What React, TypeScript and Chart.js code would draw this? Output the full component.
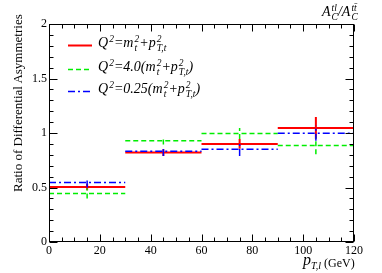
import React, { useEffect, useRef } from "react";
import { Chart, registerables } from "chart.js";
Chart.register(...registerables);

// ---- data ----
const binEdges = [0, 30, 60, 90, 120];
const binCenters = [15, 45, 75, 105];
const xTickLabels = [0, 20, 40, 60, 80, 100, 120];
const yTickLabels = [0, 0.5, 1, 1.5, 2];
const redValues = [0.505, 0.82, 0.9, 1.047];
const redErrors = [0.03, 0.03, 0.045, 0.1];
const greenValues = [0.445, 0.93, 0.995, 0.885];
const greenErrors = [0.045, 0.035, 0.05, 0.08];
const blueValues = [0.545, 0.833, 0.85, 0.998];
const blueErrors = [0.045, 0.045, 0.06, 0.07];

const RED = "#ff0000";
const GREEN = "#00ee00";
const BLUE = "#0000ff";
const SERIF = "Liberation Serif, Times New Roman, Times, serif";

type Pt = { x: number; y: number | null };

function horizontalSegments(values: number[]): Pt[] {
  const pts: Pt[] = [];
  values.forEach((v, i) => {
    pts.push({ x: binEdges[i], y: v });
    pts.push({ x: binEdges[i + 1], y: v });
    pts.push({ x: binEdges[i + 1], y: null });
  });
  return pts;
}
function verticalSegments(values: number[], errors: number[]): Pt[] {
  const pts: Pt[] = [];
  values.forEach((v, i) => {
    pts.push({ x: binCenters[i], y: v - errors[i] });
    pts.push({ x: binCenters[i], y: v + errors[i] });
    pts.push({ x: binCenters[i], y: null });
  });
  return pts;
}

const series = [
  { key: "blue", values: blueValues, errors: blueErrors, color: BLUE, width: 1.5, dash: [7, 3, 2, 3], order: 0, legendY: 91 },
  { key: "green", values: greenValues, errors: greenErrors, color: GREEN, width: 1.5, dash: [5, 3], order: 1, legendY: 69 },
  { key: "red", values: redValues, errors: redErrors, color: RED, width: 2, dash: [] as number[], order: 2, legendY: 45 },
];

const framePlugin = {
  id: "frame",
  afterDatasetsDraw(chart: any) {
    const { ctx, chartArea } = chart;
    const xs = chart.scales.x;
    const ys = chart.scales.y;
    const L = Math.round(chartArea.left) + 0.5;
    const R = Math.round(chartArea.right) - 0.5;
    const T = Math.round(chartArea.top) + 0.5;
    const B = Math.round(chartArea.bottom) - 0.5;
    ctx.save();
    ctx.strokeStyle = "#000";
    ctx.lineWidth = 1;
    ctx.setLineDash([]);
    ctx.strokeRect(L, T, R - L, B - T);
    ctx.beginPath();
    for (let v = 0; v <= 120.001; v += 5) {
      const px = Math.round(xs.getPixelForValue(v)) + 0.5;
      const len = Math.abs(v % 20) < 0.01 ? 7 : 4;
      ctx.moveTo(px, B);
      ctx.lineTo(px, B - len);
      ctx.moveTo(px, T);
      ctx.lineTo(px, T + len);
    }
    for (let k = 0; k <= 20; k++) {
      const v = k / 10;
      const py = Math.round(ys.getPixelForValue(v)) + 0.5;
      const len = k % 5 === 0 ? 8 : 4;
      ctx.moveTo(L, py);
      ctx.lineTo(L + len, py);
      ctx.moveTo(R, py);
      ctx.lineTo(R - len, py);
    }
    ctx.stroke();
    // legend samples
    series.forEach((s) => {
      ctx.beginPath();
      ctx.strokeStyle = s.color;
      ctx.lineWidth = s.width;
      ctx.setLineDash(s.dash);
      ctx.moveTo(68, s.legendY + 0.5);
      ctx.lineTo(92, s.legendY + 0.5);
      ctx.stroke();
    });
    ctx.restore();
  },
};

const SS = ({ sup, sub }: { sup?: string; sub?: string }) => (
  <span
    style={{
      display: "inline-flex",
      flexDirection: "column",
      verticalAlign: 5,
      fontSize: "0.68em",
      lineHeight: "9px",
      marginLeft: 1,
    }}
  >
    <span>{sup ?? "\u00a0"}</span>
    <span>{sub ?? "\u00a0"}</span>
  </span>
);

export default function App() {
  const ref = useRef<HTMLCanvasElement | null>(null);
  useEffect(() => {
    if (!ref.current) return;
    const datasets: any[] = [];
    series.forEach((s) => {
      datasets.push({
        label: s.key,
        data: horizontalSegments(s.values),
        borderColor: s.color,
        borderWidth: s.width,
        borderDash: s.dash,
        pointRadius: 0,
        spanGaps: false,
        order: s.order,
        fill: false,
      });
      datasets.push({
        label: s.key + "-err",
        data: verticalSegments(s.values, s.errors),
        borderColor: s.color,
        borderWidth: s.width,
        borderDash: s.dash,
        pointRadius: 0,
        spanGaps: false,
        order: s.order,
        fill: false,
      });
    });
    const chart = new Chart(ref.current, {
      type: "line",
      data: { datasets },
      options: {
        animation: false,
        responsive: false,
        events: [],
        layout: { padding: { left: 0, right: 28, top: 24, bottom: 0 } },
        plugins: { legend: { display: false }, tooltip: { enabled: false } },
        scales: {
          x: {
            type: "linear",
            min: xTickLabels[0],
            max: xTickLabels[xTickLabels.length - 1],
            grid: { display: false, drawTicks: false },
            border: { display: false },
            ticks: {
              stepSize: 20,
              padding: 2,
              color: "#000",
              maxRotation: 0,
              font: { family: SERIF, size: 12 },
              callback: (v: any) => String(v),
            },
            afterFit: (s: any) => {
              s.height = 31;
            },
          },
          y: {
            type: "linear",
            min: yTickLabels[0],
            max: yTickLabels[yTickLabels.length - 1],
            grid: { display: false, drawTicks: false },
            border: { display: false },
            ticks: {
              stepSize: 0.5,
              padding: 2,
              color: "#000",
              font: { family: SERIF, size: 12 },
              callback: (v: any) => String(v),
            },
            afterFit: (s: any) => {
              s.width = 49;
            },
          },
        },
      },
      plugins: [framePlugin],
    });
    return () => chart.destroy();
  }, []);

  const it: React.CSSProperties = { fontStyle: "italic" };
  const legendStyle = (y: number): React.CSSProperties => ({
    position: "absolute",
    left: 98,
    top: y - 10,
    fontFamily: SERIF,
    fontSize: 14,
    lineHeight: "14px",
    whiteSpace: "nowrap",
    fontStyle: "italic",
  });

  return (
    <div style={{ position: "fixed", left: 0, top: 0, width: 382, height: 273, background: "#fff" }}>
      <canvas ref={ref} width={382} height={273} style={{ display: "block" }} />
      <div style={legendStyle(45)}>
        Q<SS sup="2" />=m<SS sup="2" sub="t" />+p<SS sup="2" sub="T,t" />
      </div>
      <div style={legendStyle(69)}>
        Q<SS sup="2" />=4.0(m<SS sup="2" sub="t" />+p<SS sup="2" sub="T,t" />)
      </div>
      <div style={legendStyle(91)}>
        Q<SS sup="2" />=0.25(m<SS sup="2" sub="t" />+p<SS sup="2" sub="T,t" />)
      </div>
      <div
        style={{
          position: "absolute",
          left: 322,
          top: 4,
          fontFamily: SERIF,
          fontSize: 14,
          lineHeight: "14px",
          whiteSpace: "nowrap",
          fontStyle: "italic",
        }}
      >
        A<SS sup="tl" sub="C" />/A<SS sup={"tt\u0304"} sub="C" />
      </div>
      <div
        style={{
          position: "absolute",
          left: 11,
          top: 192,
          transformOrigin: "0 0",
          transform: "rotate(-90deg)",
          fontFamily: SERIF,
          fontSize: 13,
          lineHeight: "14px",
          whiteSpace: "nowrap",
        }}
      >
        Ratio of Differential Asymmetries
      </div>
      <div
        style={{
          position: "absolute",
          left: 303,
          top: 252,
          fontFamily: SERIF,
          fontSize: 16,
          lineHeight: "16px",
          whiteSpace: "nowrap",
        }}
      >
        <span style={it}>p</span>
        <span style={{ ...it, fontSize: 10, verticalAlign: -4 }}>T,l</span>
        <span style={{ fontSize: 12, marginLeft: 3, verticalAlign: -2 }}>(GeV)</span>
      </div>
    </div>
  );
}
